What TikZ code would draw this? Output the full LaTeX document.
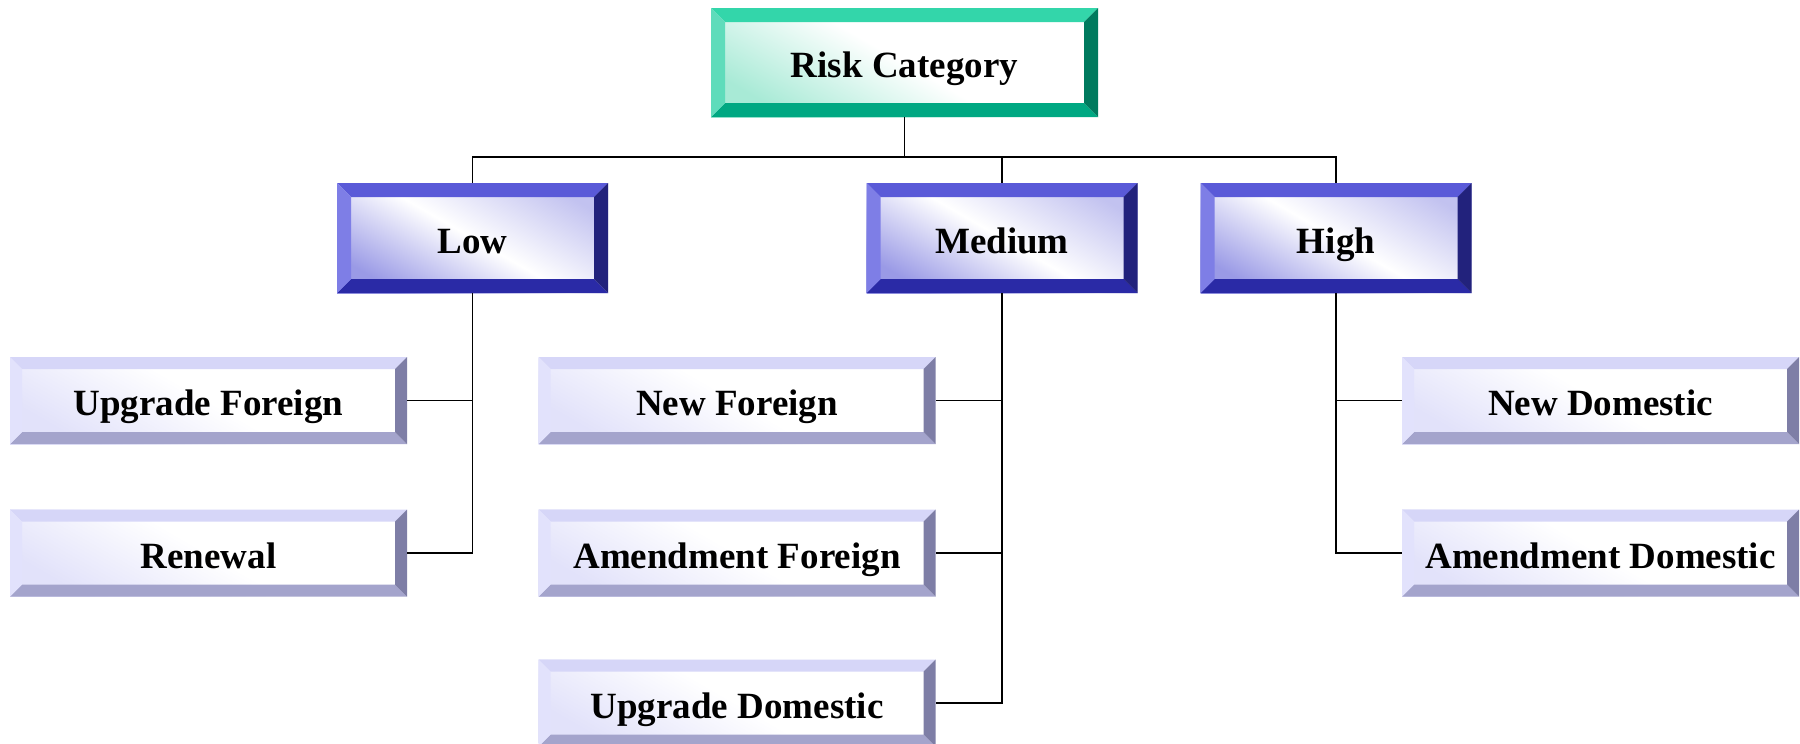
\documentclass[tikz,border=0pt]{standalone}
\usepackage{fontspec}
\setmainfont{Liberation Serif}
\usetikzlibrary{calc}
\definecolor{tTop}{HTML}{33D6AA}\definecolor{tLeft}{HTML}{5FDCBB}\definecolor{tRight}{HTML}{007A5E}\definecolor{tBot}{HTML}{00A882}\definecolor{tIn}{HTML}{A8EAD6}
\definecolor{bTop}{HTML}{5A5AD8}\definecolor{bLeft}{HTML}{7E7EE6}\definecolor{bRight}{HTML}{22227C}\definecolor{bBot}{HTML}{2A2AA6}\definecolor{bIn}{HTML}{9A9AE6}
\definecolor{lTop}{HTML}{D6D6F8}\definecolor{lLeft}{HTML}{E2E2FC}\definecolor{lRight}{HTML}{7E7EA6}\definecolor{lBot}{HTML}{A4A4CC}\definecolor{lIn}{HTML}{E2E2FA}
\tikzset{
  x=1pt, y=-1pt,
  bevelbox/.style n args={7}{
    rectangle, inner sep=0pt, outer sep=0pt,
    font=\fontsize{37}{40}\selectfont\bfseries,
    text height=30pt, text depth=0pt,
    shading=axis, top color=#7, bottom color=#6, middle color=white, shading angle=-30,
    path picture={
      \def\bw{#5}
      \fill[#1] (path picture bounding box.north west) -- (path picture bounding box.north east)
        -- ($(path picture bounding box.north east)+(-\bw,\bw)$) -- ($(path picture bounding box.north west)+(\bw,\bw)$) -- cycle;
      \fill[#4] (path picture bounding box.south west) -- (path picture bounding box.south east)
        -- ($(path picture bounding box.south east)+(-\bw,-\bw)$) -- ($(path picture bounding box.south west)+(\bw,-\bw)$) -- cycle;
      \fill[#2] (path picture bounding box.north west) -- ($(path picture bounding box.north west)+(\bw,\bw)$)
        -- ($(path picture bounding box.south west)+(\bw,-\bw)$) -- (path picture bounding box.south west) -- cycle;
      \fill[#3] (path picture bounding box.north east) -- ($(path picture bounding box.north east)+(-\bw,\bw)$)
        -- ($(path picture bounding box.south east)+(-\bw,-\bw)$) -- (path picture bounding box.south east) -- cycle;
    }},
  rootbox/.style={bevelbox={tTop}{tLeft}{tRight}{tBot}{14}{tIn}{white}, minimum width=387pt, minimum height=109pt},
  midbox/.style={bevelbox={bTop}{bLeft}{bRight}{bBot}{14}{bIn}{bIn!60}, minimum width=271pt, minimum height=110pt},
  leafbox/.style={bevelbox={lTop}{lLeft}{lRight}{lBot}{12}{lIn}{white}, minimum width=397pt, minimum height=87pt},
  conn/.style={draw=black, line width=1.7pt}
}
\begin{document}
\begin{tikzpicture}
\useasboundingbox (0,0) rectangle (1800,744);
\node[rootbox] (root) at (904.5,62.5) {Risk Category};
\node[midbox] (low) at (472.5,238) {Low};
\node[midbox] (med) at (1002,238) {Medium};
\node[midbox] (high) at (1336,238) {High};
\node[leafbox] (uf) at (208.5,400.5) {Upgrade Foreign};
\node[leafbox] (ren) at (208.5,553) {Renewal};
\node[leafbox] (nf) at (737,400.5) {New Foreign};
\node[leafbox] (af) at (737,553) {Amendment Foreign};
\node[leafbox] (ud) at (737,703) {Upgrade Domestic};
\node[leafbox] (nd) at (1600.5,400.5) {New Domestic};
\node[leafbox] (ad) at (1600.5,553) {Amendment Domestic};
\coordinate (bus) at (904.5,157);
\draw[conn] (root.south) -- (root.south |- bus);
\draw[conn] (root.south |- bus) -| (low.north);
\draw[conn] (root.south |- bus) -| (med.north);
\draw[conn] (root.south |- bus) -| (high.north);
\draw[conn] (low.south) |- (uf.east);
\draw[conn] (low.south) |- (ren.east);
\draw[conn] (med.south) |- (nf.east);
\draw[conn] (med.south) |- (af.east);
\draw[conn] (med.south) |- (ud.east);
\draw[conn] (high.south) |- (nd.west);
\draw[conn] (high.south) |- (ad.west);
\end{tikzpicture}
\end{document}
